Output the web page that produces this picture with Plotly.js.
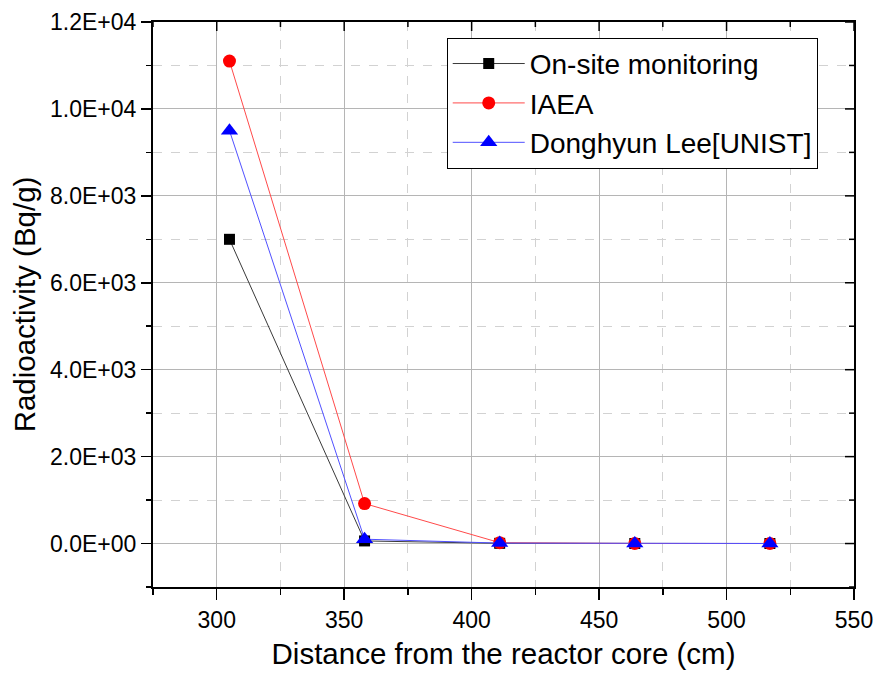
<!DOCTYPE html>
<html>
<head>
<meta charset="utf-8">
<script src="https://cdn.plot.ly/plotly-3.0.1.min.js"></script>
<style>
  html, body { margin: 0; padding: 0; background: #fff; }
  #chart { width: 877px; height: 675px; }
</style>
</head>
<body>
<div id="chart"></div>
<script>
// Data
const distance = [305, 358, 411, 464, 517];
const onSite   = [7000, 60, 5, 1, 1];
const iaea     = [11100, 920, 20, 1, 1];
const donghyun = [9500, 100, 10, 1, 1];

const seriesNames = ['On-site monitoring', 'IAEA', 'Donghyun Lee[UNIST]'];

const xTickVals = [300, 350, 400, 450, 500, 550];
const xMinorVals = [275, 325, 375, 425, 475, 525];
const yTickVals = [0, 2000, 4000, 6000, 8000, 10000, 12000];
const yMinorVals = [-1000, 1000, 3000, 5000, 7000, 9000, 11000];
const yTickText = ['0.0E+00', '2.0E+03', '4.0E+03', '6.0E+03', '8.0E+03', '1.0E+04', '1.2E+04'];

const FONT = 'Arial, "Liberation Sans", sans-serif';

const traces = [
  {
    x: distance, y: onSite, name: seriesNames[0], type: 'scatter', mode: 'lines+markers',
    line: { color: '#3a3a3a', width: 1 },
    marker: { symbol: 'square', size: 11, color: '#000' }
  },
  {
    x: distance, y: iaea, name: seriesNames[1], type: 'scatter', mode: 'lines+markers',
    line: { color: '#ff4a4a', width: 1 },
    marker: { symbol: 'circle', size: 13, color: '#ff0000' }
  },
  {
    x: distance, y: donghyun, name: seriesNames[2], type: 'scatter', mode: 'lines+markers',
    line: { color: '#5050ff', width: 1 },
    marker: { symbol: 'triangle-up', size: 15, color: '#0000ff' }
  }
];

// inward ticks on the top and right frame edges, placed at the axis tick values
const tickShapes = [];
function topTick(v, len) {
  tickShapes.push({ type: 'line', layer: 'above', xref: 'x', x0: v, x1: v,
    yref: 'paper', ysizemode: 'pixel', yanchor: 1, y0: 0, y1: -len,
    line: { color: '#000', width: 1.5 } });
}
function rightTick(v, len) {
  tickShapes.push({ type: 'line', layer: 'above', yref: 'y', y0: v, y1: v,
    xref: 'paper', xsizemode: 'pixel', xanchor: 1, x0: 0, x1: -len,
    line: { color: '#000', width: 1.5 } });
}
xTickVals.forEach(v => topTick(v, 9));
xMinorVals.forEach(v => topTick(v, 5));
yTickVals.forEach(v => rightTick(v, 9));
yMinorVals.forEach(v => rightTick(v, 5));

const xRange = [275, 550];
const yRange = [-1000, 12000];

const layout = {
  width: 877, height: 675,
  margin: { l: 153, r: 23, t: 22, b: 88 },
  paper_bgcolor: '#fff', plot_bgcolor: '#fff',
  font: { family: FONT, color: '#000', size: 23 },
  showlegend: true,
  legend: {
    x: 0.419, y: 0.972, xanchor: 'left', yanchor: 'top',
    bgcolor: '#fff', bordercolor: '#000', borderwidth: 1,
    font: { family: FONT, size: 28, color: '#000' },
    itemwidth: 72, tracegroupgap: 0
  },
  shapes: tickShapes,
  xaxis: {
    range: xRange, tickvals: xTickVals,
    ticks: 'outside', ticklen: 11, tickwidth: 1.5, tickcolor: '#000',
    showline: true, linecolor: '#000', linewidth: 2, mirror: true,
    showgrid: true, gridcolor: '#b5b5b5', gridwidth: 1,
    zeroline: false,
    tickfont: { family: FONT, size: 23, color: '#000' },
    minor: { tickvals: xMinorVals, ticks: 'outside', ticklen: 6, tickwidth: 1.5, tickcolor: '#000',
             showgrid: true, gridcolor: '#d2d2d2', griddash: 'dash', gridwidth: 1 },
    title: { text: 'Distance from the reactor core (cm)', font: { family: FONT, size: 29.5, color: '#000' }, standoff: 12 }
  },
  yaxis: {
    range: yRange, tickvals: yTickVals, ticktext: yTickText,
    ticks: 'outside', ticklen: 10, tickwidth: 1.5, tickcolor: '#000',
    showline: true, linecolor: '#000', linewidth: 2, mirror: true,
    showgrid: true, gridcolor: '#b5b5b5', gridwidth: 1,
    zeroline: false,
    tickfont: { family: FONT, size: 23, color: '#000' },
    minor: { tickvals: yMinorVals, ticks: 'outside', ticklen: 5, tickwidth: 1.5, tickcolor: '#000',
             showgrid: true, gridcolor: '#d2d2d2', griddash: 'dash', gridwidth: 1 },
    title: { text: 'Radioactivity (Bq/g)', font: { family: FONT, size: 29.5, color: '#000' }, standoff: 6 }
  }
};

Plotly.newPlot('chart', traces, layout, { displayModeBar: false, staticPlot: true });
</script>
</body>
</html>
